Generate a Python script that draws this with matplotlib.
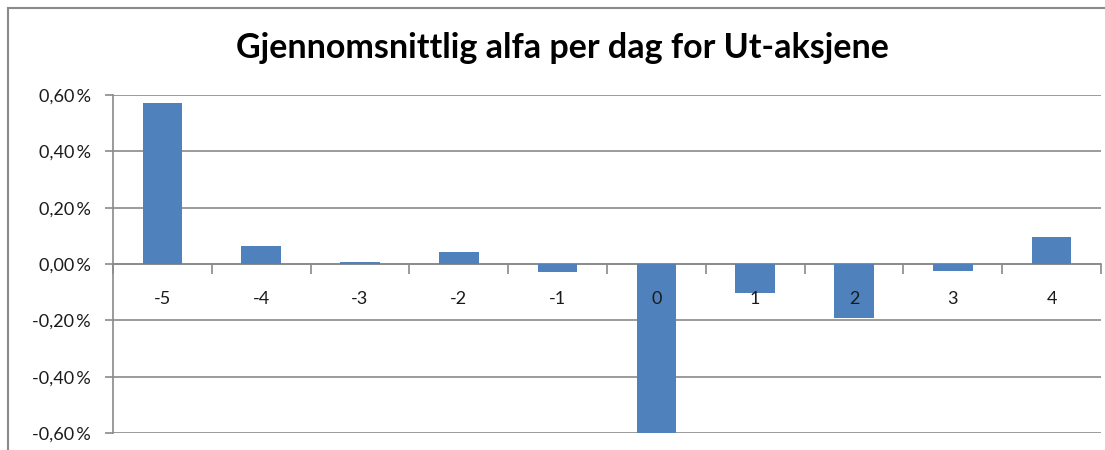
import matplotlib.pyplot as plt
import numpy as np
from matplotlib.patches import Rectangle
from matplotlib.ticker import FixedLocator, FuncFormatter

# Average alpha per day (percent) around the event day
days = [-5, -4, -3, -2, -1, 0, 1, 2, 3, 4]
alpha_pct = [0.572, 0.064, 0.007, 0.041, -0.03, -0.60, -0.104, -0.19, -0.025, 0.096]
y_ticks = [-0.6, -0.4, -0.2, 0.0, 0.2, 0.4, 0.6]

plt.rcParams['font.family'] = ['Lato', 'DejaVu Sans']

fig = plt.figure(figsize=(11.05, 4.5), dpi=100, facecolor='white')
ax = fig.add_axes([113 / 1105, 1 - 433 / 450, 988 / 1105, 338 / 450])

x = np.arange(len(days))
ax.bar(x, alpha_pct, width=0.4, color='#4F81BD', zorder=3)

ax.set_xlim(-0.5, len(days) - 0.5)
ax.set_ylim(-0.6, 0.6)

# horizontal gridlines, Excel style
ax.set_yticks(y_ticks)
ax.yaxis.set_major_formatter(FuncFormatter(lambda v, p: f"{v:.2f}\u2009%".replace('.', ',')))
ax.grid(axis='y', color='#8a8a8a', linewidth=1.2, zorder=0)
ax.tick_params(axis='y', length=6, width=1.2, color='#8a8a8a', pad=10,
               labelsize=13, labelcolor='#1a1a1a')

# category axis sits on the zero line
ax.spines['bottom'].set_position(('data', 0))
ax.spines['bottom'].set_color('#8a8a8a')
ax.spines['bottom'].set_linewidth(1.2)
ax.spines['bottom'].set_zorder(2)
ax.set_xticks(x)
ax.set_xticklabels([])
ax.xaxis.set_minor_locator(FixedLocator(np.arange(-0.5, len(days), 1.0)))
ax.tick_params(axis='x', which='major', length=0)
ax.tick_params(axis='x', which='minor', length=7, width=1.2, color='#8a8a8a', direction='out')

# category labels drawn on top of the bars
for xi, d in zip(x, days):
    ax.annotate(str(d), (xi, 0), xytext=(0, -25), textcoords='offset points',
                ha='center', va='center', fontsize=13, color='#1a1a1a', zorder=5)

ax.spines['left'].set_color('#8a8a8a')
ax.spines['left'].set_linewidth(1.2)
ax.spines['top'].set_visible(False)
ax.spines['right'].set_visible(False)

fig.text(0.509, 1 - 48 / 450, 'Gjennomsnittlig alfa per dag for Ut-aksjene',
         ha='center', va='center', fontsize=24.5, fontweight='bold', color='black')

# outer chart frame
fig.patches.append(Rectangle((8 / 1105, -0.1), 1.2, 1 - 8 / 450 + 0.1,
                             transform=fig.transFigure, fill=False,
                             edgecolor='#8a8a8a', linewidth=1.5))

fig.savefig('out.png', dpi=100)
